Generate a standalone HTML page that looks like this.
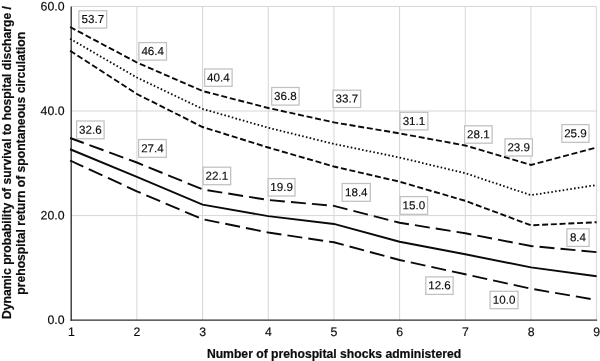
<!DOCTYPE html>
<html><head><meta charset="utf-8"><title>Chart</title>
<style>
html,body{margin:0;padding:0;background:#fff;}
svg{display:block;font-family:"Liberation Sans",Arial,Helvetica,sans-serif;}
.g{stroke:#d6d6d6;stroke-width:1;fill:none}
.ax{stroke:#2e2e2e;stroke-width:1.35;fill:none}
.t{font-size:12.3px;fill:#0a0a0a;stroke:#0a0a0a;stroke-width:0.15}
.l{font-size:11.6px;fill:#0a0a0a;text-anchor:middle;stroke:#0a0a0a;stroke-width:0.15}
.b{fill:#fff;stroke:#c0c0c0;stroke-width:1.25}
.ttl{font-weight:bold;fill:#0c0c0c;text-anchor:middle;stroke:#0c0c0c;stroke-width:0.2}
.ln{fill:none;stroke:#0a0a0a}
</style></head><body>
<svg width="600" height="361" viewBox="0 0 600 361">
<rect width="600" height="361" fill="#fff"/>
<line class="g" x1="136.88" y1="6.45" x2="136.88" y2="320.14"/>
<line class="g" x1="202.56" y1="6.45" x2="202.56" y2="320.14"/>
<line class="g" x1="268.24" y1="6.45" x2="268.24" y2="320.14"/>
<line class="g" x1="333.92" y1="6.45" x2="333.92" y2="320.14"/>
<line class="g" x1="399.60" y1="6.45" x2="399.60" y2="320.14"/>
<line class="g" x1="465.28" y1="6.45" x2="465.28" y2="320.14"/>
<line class="g" x1="530.96" y1="6.45" x2="530.96" y2="320.14"/>
<line class="g" x1="596.64" y1="6.45" x2="596.64" y2="320.14"/>
<line class="g" x1="71.2" y1="215.58" x2="596.64" y2="215.58"/>
<line class="g" x1="71.2" y1="111.01" x2="596.64" y2="111.01"/>
<line class="g" x1="71.2" y1="6.45" x2="596.64" y2="6.45"/>
<line class="ax" x1="71.2" y1="6.45" x2="71.2" y2="320.81"/>
<line class="ax" x1="70.53" y1="320.14" x2="597.1" y2="320.14"/>
<rect class="b" x="78.9" y="10.7" width="27.8" height="17.4"/>
<text class="l" transform="matrix(1,0.001,0,1,92.80,23.12)">53.7</text>
<rect class="b" x="138.9" y="42.6" width="27.6" height="17.5"/>
<text class="l" transform="matrix(1,0.001,0,1,152.70,55.08)">46.4</text>
<rect class="b" x="204.6" y="69.0" width="27.5" height="17.3"/>
<text class="l" transform="matrix(1,0.001,0,1,218.35,81.42)">40.4</text>
<rect class="b" x="271.7" y="87.5" width="27.4" height="17.6"/>
<text class="l" transform="matrix(1,0.001,0,1,285.40,100.07)">36.8</text>
<rect class="b" x="333.0" y="90.2" width="27.7" height="17.3"/>
<text class="l" transform="matrix(1,0.001,0,1,346.85,102.62)">33.7</text>
<rect class="b" x="400.0" y="112.3" width="27.9" height="17.6"/>
<text class="l" transform="matrix(1,0.001,0,1,413.95,124.90)">31.1</text>
<rect class="b" x="464.6" y="125.8" width="27.5" height="17.4"/>
<text class="l" transform="matrix(1,0.001,0,1,478.35,138.22)">28.1</text>
<rect class="b" x="505.0" y="138.8" width="27.4" height="17.2"/>
<text class="l" transform="matrix(1,0.001,0,1,518.70,151.18)">23.9</text>
<rect class="b" x="561.9" y="124.6" width="27.1" height="17.7"/>
<text class="l" transform="matrix(1,0.001,0,1,575.42,137.18)">25.9</text>
<rect class="b" x="76.6" y="121.0" width="27.5" height="17.8"/>
<text class="l" transform="matrix(1,0.001,0,1,90.35,133.65)">32.6</text>
<rect class="b" x="138.6" y="139.5" width="27.7" height="17.8"/>
<text class="l" transform="matrix(1,0.001,0,1,152.45,152.18)">27.4</text>
<rect class="b" x="203.1" y="167.2" width="27.6" height="17.5"/>
<text class="l" transform="matrix(1,0.001,0,1,216.90,179.68)">22.1</text>
<rect class="b" x="268.1" y="178.6" width="26.9" height="17.4"/>
<text class="l" transform="matrix(1,0.001,0,1,281.55,191.07)">19.9</text>
<rect class="b" x="342.2" y="183.5" width="28.1" height="17.8"/>
<text class="l" transform="matrix(1,0.001,0,1,356.27,196.18)">18.4</text>
<rect class="b" x="400.1" y="196.6" width="27.5" height="17.7"/>
<text class="l" transform="matrix(1,0.001,0,1,413.85,209.18)">15.0</text>
<rect class="b" x="425.8" y="276.9" width="27.3" height="17.5"/>
<text class="l" transform="matrix(1,0.001,0,1,439.48,289.35)">12.6</text>
<rect class="b" x="490.1" y="291.3" width="27.9" height="17.4"/>
<text class="l" transform="matrix(1,0.001,0,1,504.05,303.75)">10.0</text>
<rect class="b" x="566.9" y="228.8" width="22.2" height="17.6"/>
<text class="l" transform="matrix(1,0.001,0,1,577.95,241.30)">8.4</text>
<polyline class="ln" stroke-width="1.9" stroke-dasharray="6 2.7688" points="70.10,27.02 136.88,62.50 202.56,91.00 268.24,108.00 333.92,122.40 399.60,133.40 465.28,145.50 530.96,164.90 596.64,147.50"/>
<polyline class="ln" stroke-width="1.9" stroke-dasharray="6 2.7476" points="70.10,50.69 136.88,94.00 202.56,127.00 268.24,147.50 333.92,166.50 399.60,181.70 465.28,200.80 530.96,225.30 596.64,222.20"/>
<polyline class="ln" stroke-width="1.8" stroke-dasharray="1.6 2.2377" points="70.10,38.75 136.88,77.55 202.56,108.92 268.24,127.74 333.92,143.95 399.60,157.54 465.28,173.23 530.96,195.19 596.64,185.00"/>
<polyline class="ln" stroke-width="1.9" stroke-dasharray="15 6.0827" stroke-dashoffset="0.5" points="70.10,138.00 136.88,162.50 202.56,189.40 268.24,200.00 333.92,205.90 399.60,222.70 465.28,233.30 530.96,246.00 596.64,252.10"/>
<polyline class="ln" stroke-width="1.9" stroke-dasharray="15 6.0740" stroke-dashoffset="0.5" points="70.10,160.49 136.88,191.30 202.56,219.20 268.24,232.50 333.92,242.30 399.60,260.00 465.28,274.30 530.96,288.70 596.64,300.00"/>
<polyline class="ln" stroke-width="1.9" points="70.10,149.25 136.88,176.89 202.56,204.60 268.24,216.10 333.92,223.94 399.60,241.72 465.28,254.27 530.96,267.36 596.64,276.22"/>
<text class="t" text-anchor="end" transform="matrix(1,0.001,0,1,64.5,324.09)">0.0</text>
<text class="t" text-anchor="end" transform="matrix(1,0.001,0,1,64.5,219.53)">20.0</text>
<text class="t" text-anchor="end" transform="matrix(1,0.001,0,1,64.5,114.96)">40.0</text>
<text class="t" text-anchor="end" transform="matrix(1,0.001,0,1,64.5,10.40)">60.0</text>
<text class="t" text-anchor="middle" transform="matrix(1,0.001,0,1,71.30,336.1)">1</text>
<text class="t" text-anchor="middle" transform="matrix(1,0.001,0,1,136.98,336.1)">2</text>
<text class="t" text-anchor="middle" transform="matrix(1,0.001,0,1,202.66,336.1)">3</text>
<text class="t" text-anchor="middle" transform="matrix(1,0.001,0,1,268.34,336.1)">4</text>
<text class="t" text-anchor="middle" transform="matrix(1,0.001,0,1,334.02,336.1)">5</text>
<text class="t" text-anchor="middle" transform="matrix(1,0.001,0,1,399.70,336.1)">6</text>
<text class="t" text-anchor="middle" transform="matrix(1,0.001,0,1,465.38,336.1)">7</text>
<text class="t" text-anchor="middle" transform="matrix(1,0.001,0,1,531.06,336.1)">8</text>
<text class="t" text-anchor="middle" transform="matrix(1,0.001,0,1,596.74,336.1)">9</text>
<text class="ttl" font-size="12.19" transform="translate(334,358.1) scale(1,0.98)">Number of prehospital shocks administered</text>
<text class="ttl" font-size="12.17" transform="translate(10.8,162.5) rotate(-90) scale(1,1.07)">Dynamic probability of survival to hospital discharge /</text>
<text class="ttl" font-size="12.17" transform="translate(25,163.3) rotate(-90) scale(1,1.07)">prehospital return of spontaneous circulation</text>
</svg></body></html>
